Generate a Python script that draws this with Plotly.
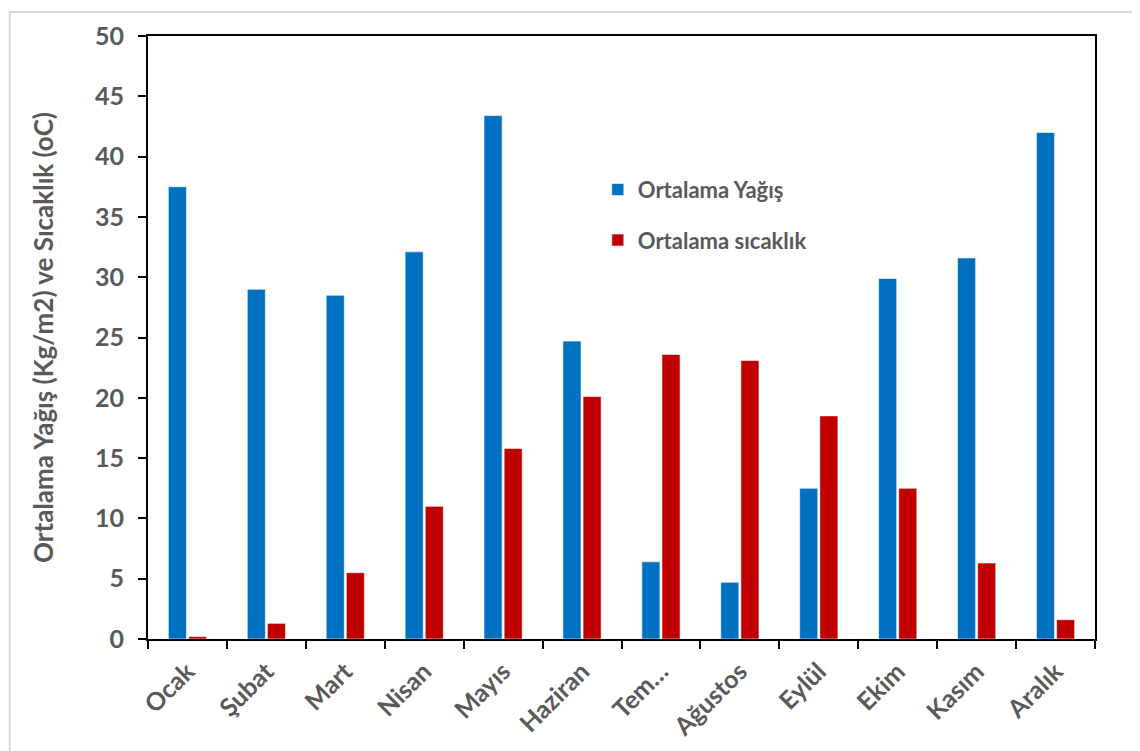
import plotly.graph_objects as go

months = ["Ocak", "Şubat", "Mart", "Nisan", "Mayıs", "Haziran", "Tem…",
          "Ağustos", "Eylül", "Ekim", "Kasım", "Aralık"]
yagis = [37.5, 29.0, 28.5, 32.1, 43.4, 24.7, 6.4, 4.7, 12.5, 29.9, 31.6, 42.0]
sicaklik = [0.2, 1.3, 5.5, 11.0, 15.8, 20.1, 23.6, 23.1, 18.5, 12.5, 6.3, 1.6]

font_family = "Lato, 'Open Sans', sans-serif"
grey = "#595959"

fig = go.Figure()
fig.add_trace(go.Bar(x=months, y=yagis, name="Ortalama Yağış",
                     marker=dict(color="#0070C0", line=dict(color="rgba(255,255,255,0.6)", width=1)),
                     legendgroup="a"))
fig.add_trace(go.Bar(x=months, y=sicaklik, name="Ortalama sıcaklık",
                     marker=dict(color="#C00000", line=dict(color="rgba(255,255,255,0.6)", width=1)),
                     legendgroup="b"))

fig.update_layout(
    width=1140, height=751,
    margin=dict(l=140, r=53, t=25, b=120),
    plot_bgcolor="white", paper_bgcolor="white",
    barmode="group", bargap=0.49, bargroupgap=0.1,
    font=dict(family=font_family, color=grey, size=20),
    showlegend=True,
    legend=dict(x=0.475, y=0.78, xanchor="left", yanchor="top",
                bgcolor="rgba(0,0,0,0)", tracegroupgap=19,
                font=dict(size=22, color=grey, family=font_family, weight="bold"),
                itemwidth=30),
    xaxis=dict(showline=True, linecolor="black", linewidth=2, mirror=True,
               ticks="outside", ticklen=8, tickcolor="black", tickwidth=2,
               tickson="boundaries", tickangle=-45, ticklabelstandoff=6,
               tickfont=dict(size=25, color=grey, family=font_family, weight="bold")),
    yaxis=dict(range=[0, 50], dtick=5, showline=True, linecolor="black", linewidth=2,
               mirror=True, ticks="outside", ticklen=8, tickcolor="black", tickwidth=2,
               showgrid=False, zeroline=False, ticklabelstandoff=9,
               tickfont=dict(size=25, color=grey, family=font_family, weight="bold"),
               title=dict(text="Ortalama Yağış (Kg/m2) ve Sıcaklık (oC)", standoff=34,
                          font=dict(size=26, color=grey, family=font_family, weight="bold"))),
    shapes=[dict(type="rect", xref="paper", yref="paper",
                 x0=-0.146, x1=1.055, y0=-0.196, y1=1.04,
                 line=dict(color="#d9d9d9", width=2), layer="below")],
)

fig.write_html("out.html")
